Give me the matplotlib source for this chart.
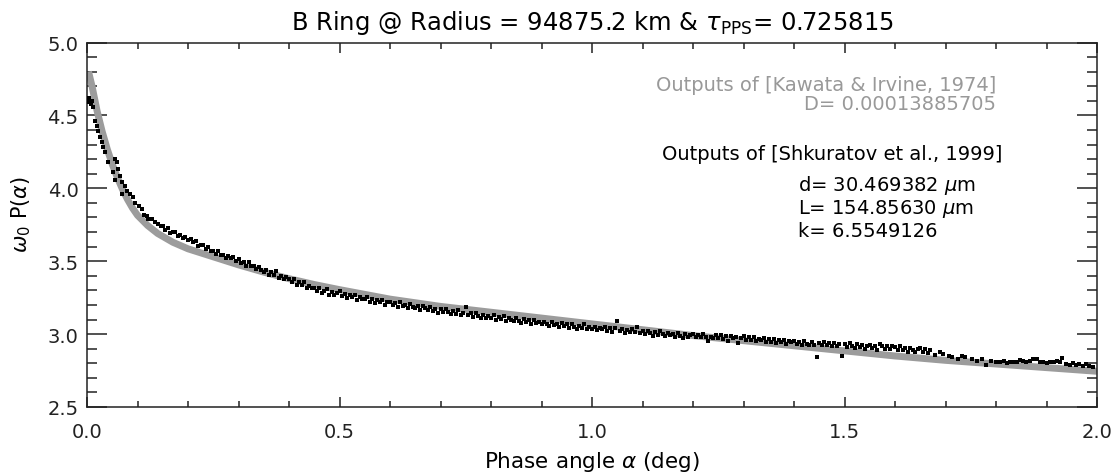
import matplotlib
matplotlib.use('Agg')
import matplotlib.pyplot as plt
from matplotlib.ticker import MultipleLocator, FormatStrFormatter

# grey model curve (Kawata & Irvine / Shkuratov fit)
model_alpha = [0.003, 0.010, 0.020, 0.030, 0.040, 0.050, 0.060, 0.070, 0.080, 0.090,
               0.100, 0.120, 0.140, 0.170, 0.200, 0.250, 0.300, 0.350, 0.400, 0.450,
               0.500, 0.600, 0.700, 0.800, 0.900, 1.000, 1.100, 1.200, 1.300, 1.400,
               1.500, 1.600, 1.700, 1.800, 1.900, 2.000]
model_refl = [4.80, 4.70, 4.53, 4.39, 4.27, 4.165, 4.075, 3.995, 3.925, 3.865,
              3.815, 3.745, 3.69, 3.63, 3.585, 3.53, 3.475, 3.425, 3.38, 3.34,
              3.305, 3.24, 3.19, 3.15, 3.11, 3.07, 3.03, 2.99, 2.955, 2.92,
              2.885, 2.85, 2.82, 2.795, 2.77, 2.745]

# observed points, small phase angles (sparse)
obs_alpha_near = [0.001, 0.003, 0.004, 0.006, 0.008, 0.010, 0.012, 0.016, 0.019, 0.022,
                  0.026, 0.029, 0.032, 0.036, 0.042, 0.052, 0.055, 0.055, 0.059, 0.062,
                  0.065, 0.069, 0.069, 0.075, 0.079, 0.085, 0.092, 0.095, 0.102, 0.108,
                  0.112, 0.118, 0.121, 0.128, 0.135, 0.141, 0.146]
obs_refl_near = [4.61, 4.59, 4.62, 4.60, 4.58, 4.60, 4.56, 4.46, 4.43, 4.395,
                 4.35, 4.315, 4.28, 4.247, 4.18, 4.11, 4.20, 4.06, 4.18, 4.13,
                 4.086, 4.04, 3.96, 4.018, 3.98, 3.96, 3.94, 3.90, 3.88, 3.858,
                 3.82, 3.81, 3.79, 3.79, 3.77, 3.755, 3.74]

# observed points, dense band
obs_alpha_band = [
    0.150, 0.155, 0.160, 0.165, 0.170, 0.175, 0.180, 0.185, 0.190, 0.195,
    0.200, 0.205, 0.210, 0.215, 0.220, 0.225, 0.230, 0.235, 0.240, 0.245,
    0.250, 0.255, 0.260, 0.265, 0.270, 0.275, 0.280, 0.285, 0.290, 0.295,
    0.300, 0.305, 0.310, 0.315, 0.320, 0.325, 0.330, 0.335, 0.340, 0.345,
    0.350, 0.355, 0.360, 0.365, 0.370, 0.375, 0.380, 0.385, 0.390, 0.395,
    0.400, 0.405, 0.410, 0.415, 0.420, 0.425, 0.430, 0.435, 0.440, 0.445,
    0.450, 0.455, 0.460, 0.465, 0.470, 0.475, 0.480, 0.485, 0.490, 0.495,
    0.500, 0.505, 0.510, 0.515, 0.520, 0.525, 0.530, 0.535, 0.540, 0.545,
    0.550, 0.555, 0.560, 0.565, 0.570, 0.575, 0.580, 0.585, 0.590, 0.595,
    0.600, 0.605, 0.610, 0.615, 0.620, 0.625, 0.630, 0.635, 0.640, 0.645,
    0.650, 0.655, 0.660, 0.665, 0.670, 0.675, 0.680, 0.685, 0.690, 0.695,
    0.700, 0.705, 0.710, 0.715, 0.720, 0.725, 0.730, 0.735, 0.740, 0.745,
    0.750, 0.755, 0.760, 0.765, 0.770, 0.775, 0.780, 0.785, 0.790, 0.795,
    0.800, 0.805, 0.810, 0.815, 0.820, 0.825, 0.830, 0.835, 0.840, 0.845,
    0.850, 0.855, 0.860, 0.865, 0.870, 0.875, 0.880, 0.885, 0.890, 0.895,
    0.900, 0.905, 0.910, 0.915, 0.920, 0.925, 0.930, 0.935, 0.940, 0.945,
    0.950, 0.955, 0.960, 0.965, 0.970, 0.975, 0.980, 0.985, 0.990, 0.995,
    1.000, 1.005, 1.010, 1.015, 1.020, 1.025, 1.030, 1.035, 1.040, 1.045,
    1.050, 1.055, 1.060, 1.065, 1.070, 1.075, 1.080, 1.085, 1.090, 1.095,
    1.100, 1.105, 1.110, 1.115, 1.120, 1.125, 1.130, 1.135, 1.140, 1.145,
    1.150, 1.155, 1.160, 1.165, 1.170, 1.175, 1.180, 1.185, 1.190, 1.195,
    1.200, 1.205, 1.210, 1.215, 1.220, 1.225, 1.230, 1.235, 1.240, 1.245,
    1.250, 1.255, 1.260, 1.265, 1.270, 1.275, 1.280, 1.285, 1.290, 1.295,
    1.300, 1.305, 1.310, 1.315, 1.320, 1.325, 1.330, 1.335, 1.340, 1.345,
    1.350, 1.355, 1.360, 1.365, 1.370, 1.375, 1.380, 1.385, 1.390, 1.395,
    1.400, 1.405, 1.410, 1.415, 1.420, 1.425, 1.430, 1.435, 1.440, 1.445,
    1.450, 1.455, 1.460, 1.465, 1.470, 1.475, 1.480, 1.485, 1.490, 1.495,
    1.500, 1.505, 1.510, 1.515, 1.520, 1.525, 1.530, 1.535, 1.540, 1.545,
    1.550, 1.555, 1.560, 1.565, 1.570, 1.575, 1.580, 1.585, 1.590, 1.595,
    1.600, 1.605, 1.610, 1.615, 1.620, 1.625, 1.630, 1.635, 1.640, 1.645,
    1.650, 1.655, 1.660, 1.665, 1.670]
obs_refl_band = [
    3.740, 3.716, 3.729, 3.694, 3.702, 3.702, 3.672, 3.680, 3.662, 3.666,
    3.642, 3.654, 3.629, 3.641, 3.604, 3.614, 3.609, 3.581, 3.596, 3.568,
    3.573, 3.549, 3.567, 3.541, 3.545, 3.521, 3.539, 3.519, 3.529, 3.503,
    3.517, 3.490, 3.495, 3.468, 3.495, 3.464, 3.465, 3.444, 3.459, 3.438,
    3.425, 3.437, 3.407, 3.429, 3.407, 3.435, 3.387, 3.399, 3.379, 3.391,
    3.381, 3.355, 3.375, 3.337, 3.355, 3.335, 3.355, 3.315, 3.329, 3.313,
    3.319, 3.295, 3.317, 3.279, 3.295, 3.309, 3.271, 3.289, 3.269, 3.285,
    3.295, 3.260, 3.273, 3.248, 3.271, 3.254, 3.269, 3.234, 3.253, 3.238,
    3.241, 3.252, 3.223, 3.242, 3.211, 3.234, 3.217, 3.236, 3.203, 3.220,
    3.223, 3.199, 3.214, 3.188, 3.217, 3.195, 3.202, 3.182, 3.205, 3.187,
    3.180, 3.194, 3.167, 3.193, 3.176, 3.162, 3.183, 3.161, 3.174, 3.148,
    3.171, 3.151, 3.170, 3.152, 3.137, 3.157, 3.140, 3.162, 3.131, 3.145,
    3.185, 3.128, 3.142, 3.118, 3.142, 3.126, 3.108, 3.134, 3.112, 3.126,
    3.112, 3.128, 3.100, 3.118, 3.102, 3.122, 3.088, 3.112, 3.100, 3.088,
    3.110, 3.092, 3.078, 3.102, 3.080, 3.094, 3.068, 3.098, 3.076, 3.084,
    3.068, 3.086, 3.072, 3.056, 3.084, 3.062, 3.072, 3.050, 3.074, 3.056,
    3.066, 3.045, 3.069, 3.050, 3.034, 3.057, 3.041, 3.066, 3.036, 3.049,
    3.035, 3.052, 3.026, 3.045, 3.033, 3.050, 3.022, 3.041, 3.013, 3.042,
    3.090, 3.021, 3.037, 3.010, 3.028, 3.011, 3.035, 3.014, 3.048, 3.007,
    3.019, 2.999, 3.022, 3.005, 2.989, 3.016, 2.996, 3.019, 2.999, 2.986,
    3.010, 2.991, 3.002, 2.979, 3.010, 2.989, 2.972, 3.001, 2.980, 2.995,
    3.002, 2.979, 2.994, 2.983, 3.002, 2.977, 2.954, 2.983, 2.976, 2.995,
    2.974, 2.991, 2.966, 2.985, 2.956, 2.989, 2.970, 2.983, 2.942, 2.976,
    2.984, 2.961, 2.977, 2.962, 2.980, 2.951, 2.969, 2.958, 2.970, 2.947,
    2.967, 2.948, 2.968, 2.941, 2.957, 2.946, 2.960, 2.929, 2.953, 2.946,
    2.956, 2.935, 2.948, 2.925, 2.954, 2.935, 2.926, 2.947, 2.922, 2.841,
    2.942, 2.923, 2.946, 2.925, 2.936, 2.915, 2.940, 2.919, 2.930, 2.851,
    2.934, 2.911, 2.938, 2.919, 2.904, 2.931, 2.910, 2.923, 2.898, 2.919,
    2.926, 2.903, 2.918, 2.893, 2.935, 2.915, 2.898, 2.915, 2.897, 2.917,
    2.914, 2.891, 2.915, 2.892, 2.904, 2.879, 2.907, 2.892, 2.878, 2.899,
    2.905, 2.880, 2.898, 2.872, 2.890]

# observed points beyond 1.67 deg (sparse)
obs_alpha_far = [1.680, 1.690, 1.696, 1.706, 1.712, 1.725, 1.732, 1.739, 1.752, 1.762,
                 1.772, 1.780, 1.791, 1.800, 1.808, 1.815, 1.822, 1.828, 1.835, 1.841,
                 1.848, 1.854, 1.860, 1.867, 1.874, 1.881, 1.888, 1.894, 1.900, 1.907,
                 1.914, 1.920, 1.926, 1.930, 1.938, 1.946, 1.952, 1.958, 1.965, 1.972,
                 1.978, 1.985, 1.992]
obs_refl_far = [2.860, 2.875, 2.864, 2.850, 2.842, 2.830, 2.848, 2.840, 2.830, 2.818,
                2.826, 2.790, 2.818, 2.812, 2.806, 2.815, 2.800, 2.806, 2.812, 2.810,
                2.822, 2.818, 2.806, 2.818, 2.826, 2.830, 2.810, 2.806, 2.800, 2.806,
                2.812, 2.818, 2.808, 2.834, 2.796, 2.790, 2.800, 2.786, 2.794, 2.780,
                2.792, 2.782, 2.776]

obs_alpha = obs_alpha_near + obs_alpha_band + obs_alpha_far
obs_refl = obs_refl_near + obs_refl_band + obs_refl_far

plt.rcParams['font.family'] = ['DejaVu Sans']
plt.rcParams['mathtext.fontset'] = 'dejavusans'

W, H = 1116, 477
fig = plt.figure(figsize=(W / 100, H / 100), dpi=100)
ax = fig.add_axes([87 / W, 1 - 408 / H, (1097 - 87) / W, (408 - 43.5) / H])

ax.plot(model_alpha, model_refl, color='#9c9c9c', lw=5, solid_capstyle='butt', zorder=2)
ax.plot(obs_alpha, obs_refl, 's', color='black', ms=2.2, mew=0, zorder=3)

ax.set_xlim(0, 2.0)
ax.set_ylim(2.5, 5.0)
ax.xaxis.set_major_locator(MultipleLocator(0.5))
ax.xaxis.set_minor_locator(MultipleLocator(0.1))
ax.yaxis.set_major_locator(MultipleLocator(0.5))
ax.yaxis.set_minor_locator(MultipleLocator(0.1))
ax.xaxis.set_major_formatter(FormatStrFormatter('%.1f'))
ax.yaxis.set_major_formatter(FormatStrFormatter('%.1f'))

ax.tick_params(which='both', direction='in', top=True, right=True, width=1.1,
               colors='#222222', labelsize=14)
ax.tick_params(axis='x', which='major', length=7.5, pad=11)
ax.tick_params(axis='x', which='minor', length=4)
ax.tick_params(axis='y', which='major', length=14.4, pad=6)
ax.tick_params(axis='y', which='minor', length=7.2)
for sp in ax.spines.values():
    sp.set_linewidth(1.1)
    sp.set_color('#222222')

# annotations
ax.text(1.80, 4.676, 'Outputs of [Kawata & Irvine, 1974]', color='#999999',
        fontsize=14, ha='right', va='baseline')
ax.text(1.80, 4.544, 'D= 0.00013885705', color='#999999',
        fontsize=14, ha='right', va='baseline')
ax.text(1.812, 4.20, 'Outputs of [Shkuratov et al., 1999]', color='black',
        fontsize=14, ha='right', va='baseline')
ax.text(1.407, 3.988, r'd= 30.469382 $\mu$m', fontsize=14, ha='left', va='baseline')
ax.text(1.407, 3.830, r'L= 154.85630 $\mu$m', fontsize=14, ha='left', va='baseline')
ax.text(1.407, 3.670, 'k= 6.5549126', fontsize=14, ha='left', va='baseline')

fig.text(592 / W, 1 - 30 / H, r'B Ring @ Radius = 94875.2 km & $\tau_{\rm PPS}$= 0.725815',
         fontsize=17.5, ha='center', va='baseline')
fig.text(592 / W, 1 - 468 / H, r'Phase angle $\alpha$ (deg)',
         fontsize=15.5, ha='center', va='baseline')
fig.text(21 / W, 1 - 215 / H, r'$\omega_0$ P($\alpha$)',
         fontsize=15, ha='center', va='center', rotation=90)

fig.savefig('out.png', dpi=100)
